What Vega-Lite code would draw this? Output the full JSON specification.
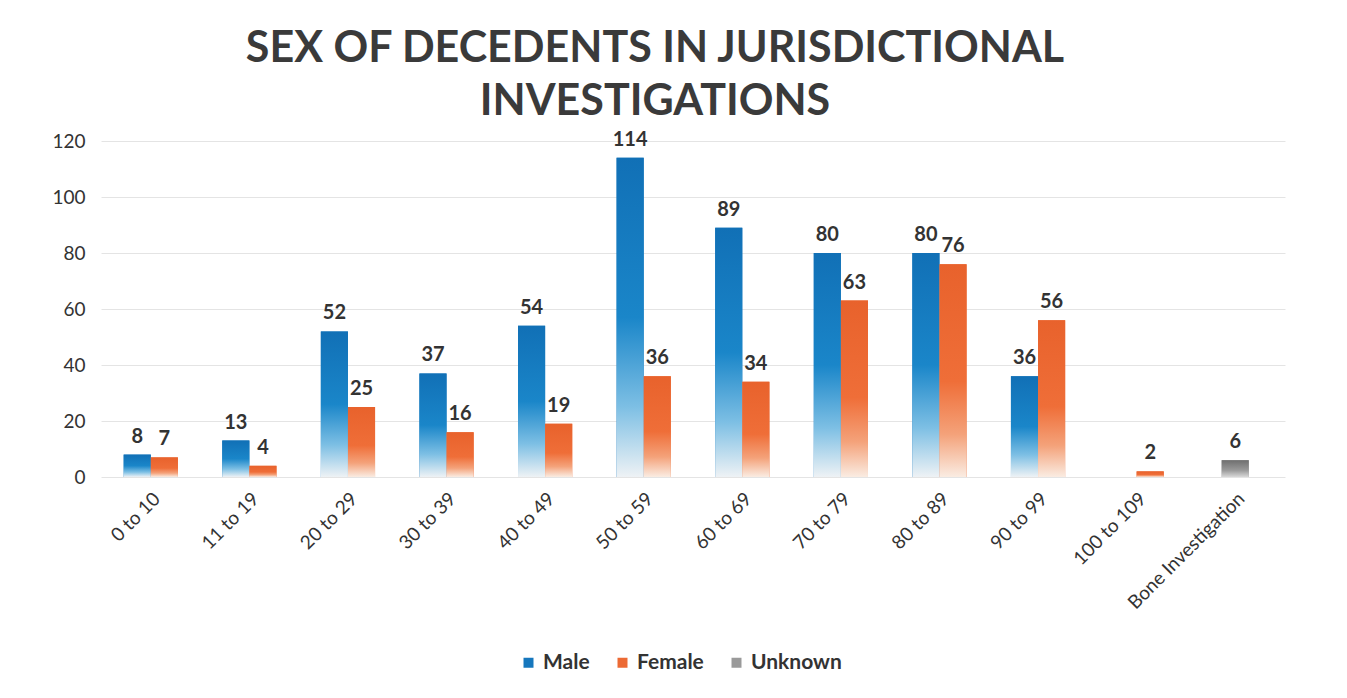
{
  "$schema": "https://vega.github.io/schema/vega-lite/v6.json",
  "width": 1184,
  "height": 336,
  "autosize": {"type": "none"},
  "padding": {"left": 101, "top": 141, "right": 62, "bottom": 221},
  "background": "white",
  "title": {
    "text": ["SEX OF DECEDENTS IN JURISDICTIONAL", "INVESTIGATIONS"],
    "font": "Lato",
    "fontSize": 43,
    "fontWeight": "bold",
    "color": "#3a3a3a",
    "lineHeight": 53,
    "anchor": "middle",
    "frame": "group",
    "dx": -38,
    "offset": 6
  },
  "config": {
    "view": {"stroke": null},
    "font": "Lato"
  },
  "data": {
    "values": [
      {"age": "0 to 10", "sex": "Male", "count": 8},
      {"age": "0 to 10", "sex": "Female", "count": 7},
      {"age": "11 to 19", "sex": "Male", "count": 13},
      {"age": "11 to 19", "sex": "Female", "count": 4},
      {"age": "20 to 29", "sex": "Male", "count": 52},
      {"age": "20 to 29", "sex": "Female", "count": 25},
      {"age": "30 to 39", "sex": "Male", "count": 37},
      {"age": "30 to 39", "sex": "Female", "count": 16},
      {"age": "40 to 49", "sex": "Male", "count": 54},
      {"age": "40 to 49", "sex": "Female", "count": 19},
      {"age": "50 to 59", "sex": "Male", "count": 114},
      {"age": "50 to 59", "sex": "Female", "count": 36},
      {"age": "60 to 69", "sex": "Male", "count": 89},
      {"age": "60 to 69", "sex": "Female", "count": 34},
      {"age": "70 to 79", "sex": "Male", "count": 80},
      {"age": "70 to 79", "sex": "Female", "count": 63},
      {"age": "80 to 89", "sex": "Male", "count": 80},
      {"age": "80 to 89", "sex": "Female", "count": 76},
      {"age": "90 to 99", "sex": "Male", "count": 36},
      {"age": "90 to 99", "sex": "Female", "count": 56},
      {"age": "100 to 109", "sex": "Female", "count": 2},
      {"age": "Bone Investigation", "sex": "Unknown", "count": 6}
    ]
  },
  "encoding": {
    "x": {
      "field": "age",
      "type": "nominal",
      "sort": ["0 to 10", "11 to 19", "20 to 29", "30 to 39", "40 to 49", "50 to 59", "60 to 69", "70 to 79", "80 to 89", "90 to 99", "100 to 109", "Bone Investigation"],
      "scale": {"paddingInner": 0.45, "paddingOuter": 0.23},
      "axis": {
        "title": null,
        "labelAngle": -45,
        "domain": false,
        "ticks": false,
        "labelFont": "Lato",
        "labelFontSize": 19,
        "labelColor": "#333333",
        "labelPadding": 12
      }
    },
    "y": {
      "field": "count",
      "type": "quantitative",
      "scale": {"domain": [0, 120], "nice": false},
      "axis": {
        "title": null,
        "values": [0, 20, 40, 60, 80, 100, 120],
        "domain": false,
        "ticks": false,
        "labelFont": "Lato",
        "labelFontSize": 19,
        "labelColor": "#333333",
        "labelPadding": 16,
        "gridColor": "#e4e4e4"
      }
    }
  },
  "layer": [
    {
      "transform": [{"filter": "datum.sex !== 'Unknown'"}],
      "mark": {"type": "bar"},
      "encoding": {
        "xOffset": {"field": "sex", "type": "nominal", "sort": ["Male", "Female"]},
        "color": {
          "field": "sex",
          "type": "nominal",
          "scale": {"domain": ["Male", "Female", "Unknown"], "range": ["#1677bd", "#ec6a34", "#9a9a9a"]},
          "legend": {
            "title": null,
            "orient": "none",
            "legendX": 417,
            "legendY": 511,
            "direction": "horizontal",
            "symbolType": "square",
            "symbolSize": 100,
            "labelFont": "Lato",
            "labelFontSize": 21,
            "labelFontWeight": "bold",
            "labelColor": "#333333",
            "columnPadding": 22,
            "labelOffset": 4
          }
        }
      }
    },
    {
      "transform": [{"filter": "datum.sex !== 'Unknown'"}],
      "mark": {"type": "bar"},
      "encoding": {
        "xOffset": {"field": "sex", "type": "nominal", "sort": ["Male", "Female"]},
        "fill": {
          "condition": {
            "test": "datum.sex === 'Male'",
            "value": {"gradient": "linear", "x1": 0, "y1": 0, "x2": 0, "y2": 1, "stops": [
              {"offset": 0, "color": "#1170b6"},
              {"offset": 0.5, "color": "#1a86c9"},
              {"offset": 0.78, "color": "#7dbfe4"},
              {"offset": 1, "color": "#eef2f5"}
            ]}
          },
          "value": {"gradient": "linear", "x1": 0, "y1": 0, "x2": 0, "y2": 1, "stops": [
            {"offset": 0, "color": "#e8622c"},
            {"offset": 0.55, "color": "#ef6e38"},
            {"offset": 0.8, "color": "#f4a27a"},
            {"offset": 1, "color": "#faece2"}
          ]}
        }
      }
    },
    {
      "transform": [{"filter": "datum.sex === 'Unknown'"}],
      "mark": {"type": "bar", "width": {"band": 0.5}},
      "encoding": {
        "color": {"field": "sex", "type": "nominal"}
      }
    },
    {
      "transform": [{"filter": "datum.sex === 'Unknown'"}],
      "mark": {"type": "bar", "width": {"band": 0.5}},
      "encoding": {
        "fill": {
          "value": {"gradient": "linear", "x1": 0, "y1": 0, "x2": 0, "y2": 1, "stops": [
            {"offset": 0, "color": "#6f6f6f"},
            {"offset": 0.6, "color": "#9a9a9a"},
            {"offset": 1, "color": "#d8d8d8"}
          ]}
        }
      }
    },
    {
      "transform": [{"filter": "datum.sex !== 'Unknown'"}],
      "mark": {"type": "text", "baseline": "bottom", "dy": -8, "font": "Lato", "fontSize": 20, "fontWeight": "bold", "color": "#333333"},
      "encoding": {
        "xOffset": {"field": "sex", "type": "nominal", "sort": ["Male", "Female"]},
        "text": {"field": "count", "type": "quantitative"}
      }
    },
    {
      "transform": [{"filter": "datum.sex === 'Unknown'"}],
      "mark": {"type": "text", "baseline": "bottom", "dy": -8, "font": "Lato", "fontSize": 20, "fontWeight": "bold", "color": "#333333"},
      "encoding": {
        "text": {"field": "count", "type": "quantitative"}
      }
    }
  ]
}
